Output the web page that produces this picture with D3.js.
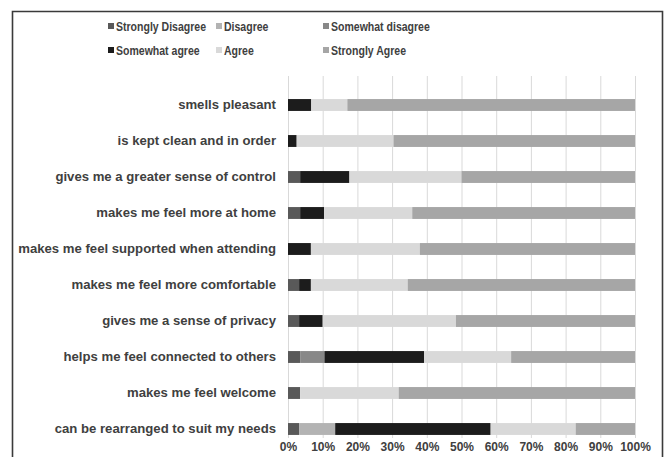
<!DOCTYPE html>
<html>
<head>
<meta charset="utf-8">
<script src="https://cdn.jsdelivr.net/npm/d3@7/dist/d3.min.js"></script>
<style>
  html, body { margin: 0; padding: 0; background: #fff; }
  svg { display: block; }
  text { font-family: "Liberation Sans", Arial, sans-serif; fill: #404040; }
</style>
</head>
<body>
<svg id="chart" width="665" height="457"></svg>
<script>
// Survey statements, top to bottom
const statements = [
  "smells pleasant",
  "is kept clean and in order",
  "gives me a greater sense of control",
  "makes me feel more at home",
  "makes me feel supported when attending",
  "makes me feel more comfortable",
  "gives me a sense of privacy",
  "helps me feel connected to others",
  "makes me feel welcome",
  "can be rearranged to suit my needs"
];

// Response scale
const responses = ["Strongly Disagree", "Disagree", "Somewhat disagree",
                   "Somewhat agree", "Agree", "Strongly Agree"];

// Percent of respondents per response, in statement order above
const stronglyDisagree = [0,    0,    3.5,  3.5,  0,    3.2,  3.2,  3.5,  3.5,  3.2];
const disagree         = [0,    0,    0,    0,    0,    0,    0,    0,    0,    10.4];
const somewhatDisagree = [0,    0,    0,    0,    0,    0,    0,    7.0,  0,    0];
const somewhatAgree    = [6.7,  2.5,  14.2, 6.9,  6.6,  3.4,  6.8,  28.7, 0,    44.8];
const agree            = [10.4, 27.9, 32.3, 25.4, 31.4, 27.9, 38.4, 25.1, 28.4, 24.5];
const stronglyAgree    = [82.9, 69.6, 50.0, 64.2, 62.0, 65.5, 51.6, 35.7, 68.1, 17.1];

const tickLabels = ["0%","10%","20%","30%","40%","50%","60%","70%","80%","90%","100%"];

const colors = ["#595959", "#b3b3b3", "#888888", "#1c1c1c", "#d9d9d9", "#a6a6a6"];

const seriesValues = [stronglyDisagree, disagree, somewhatDisagree,
                      somewhatAgree, agree, stronglyAgree];

const rows = statements.map((s, i) => {
  const r = { statement: s };
  responses.forEach((k, j) => { r[k] = seriesValues[j][i]; });
  return r;
});

const svg = d3.select("#chart");

// outer frame (open at the bottom edge)
svg.append("path")
  .attr("d", "M12.5,460 V11.5 H662.5 V460")
  .attr("fill", "none")
  .attr("stroke", "#3a3a3a")
  .attr("stroke-width", 1.6);

const x = d3.scaleLinear().domain([0, 100]).range([288, 635]);
const y = d3.scaleBand().domain(statements).range([87, 447]).paddingInner(0.67).paddingOuter(0.335);

// vertical gridlines
svg.append("g")
  .selectAll("line")
  .data(d3.range(0, 101, 10))
  .join("line")
  .attr("x1", d => x(d) + 0.5).attr("x2", d => x(d) + 0.5)
  .attr("y1", 76).attr("y2", 438)
  .attr("stroke", "#d9d9d9")
  .attr("stroke-width", 1);

// stacked bars
const stack = d3.stack().keys(responses);
const layers = stack(rows);

svg.append("g")
  .selectAll("g")
  .data(layers)
  .join("g")
  .attr("fill", (d, i) => colors[i])
  .selectAll("rect")
  .data(d => d)
  .join("rect")
  .attr("x", d => x(d[0]))
  .attr("width", d => x(d[1]) - x(d[0]))
  .attr("y", d => y(d.data.statement))
  .attr("height", y.bandwidth());

// category labels
const yAxis = d3.axisLeft(y).tickSize(0).tickPadding(12);
const yg = svg.append("g").attr("transform", "translate(288,0)").call(yAxis);
yg.select(".domain").remove();
yg.selectAll("text")
  .attr("font-size", 13.15)
  .attr("font-weight", "bold")
  .style("fill", "#404040");

// percent axis
const xAxis = d3.axisBottom(x).tickValues(d3.range(0, 101, 10))
  .tickFormat((d, i) => tickLabels[i]).tickSize(0).tickPadding(4);
const xg = svg.append("g").attr("transform", "translate(0,438)").call(xAxis);
xg.select(".domain").remove();
xg.selectAll("text")
  .attr("font-size", 12)
  .attr("font-weight", "bold")
  .style("fill", "#404040");

// legend (condensed label text)
const legendPos = [[108, 26], [216, 26], [323, 26], [108, 50], [216, 50], [323, 50]];
const lg = svg.append("g").selectAll("g")
  .data(responses)
  .join("g")
  .attr("transform", (d, i) => `translate(${legendPos[i][0]},${legendPos[i][1]})`);
lg.append("rect")
  .attr("x", 0).attr("y", -3).attr("width", 6).attr("height", 6)
  .attr("fill", (d, i) => colors[i]);
lg.append("text")
  .attr("transform", "translate(8,4.8) scale(0.78,1)")
  .attr("font-size", 13.5)
  .attr("font-weight", "bold")
  .text(d => d);
</script>
</body>
</html>
